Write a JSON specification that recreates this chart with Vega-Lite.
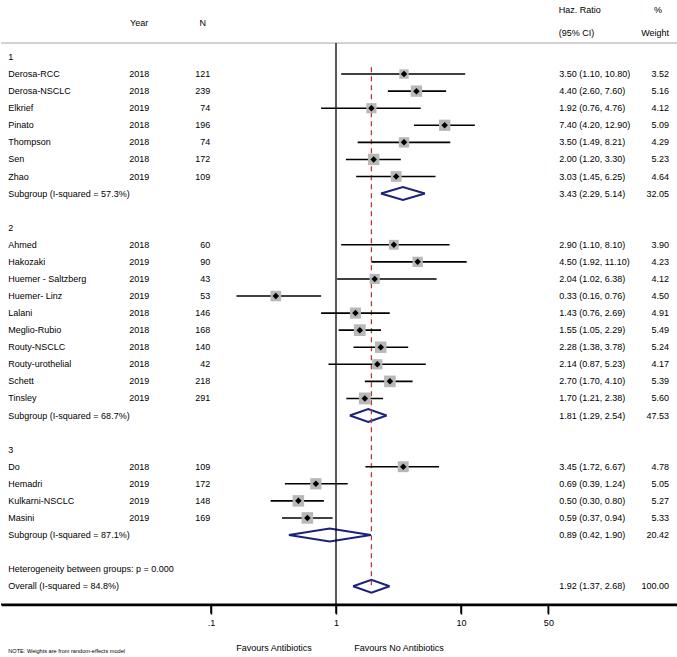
{
  "$schema": "https://vega.github.io/schema/vega-lite/v6.json",
  "width": 677,
  "height": 605,
  "padding": 0,
  "config": {
    "view": {"stroke": null},
    "text": {"font": "Liberation Sans", "fontSize": 9, "color": "black", "baseline": "middle"},
    "axisX": {"title": null, "grid": false, "domain": true, "ticks": true, "domainColor": "black", "domainWidth": 1.4, "tickColor": "black", "tickWidth": 1.5, "tickSize": 9, "labelPadding": 4,
      "labelFont": "Liberation Sans", "labelFontSize": 9, "labelColor": "black", "labelFlush": false, "labelOverlap": false}
  },
  "datasets": {
    "rows": [
      {"row": 0, "kind": "group", "label": "1"},
      {"row": 1, "kind": "study", "label": "Derosa-RCC", "year": 2018, "n": 121, "hr": 3.50, "lo": 1.10, "hi": 10.80, "w": 3.52, "ci": "3.50 (1.10, 10.80)"},
      {"row": 2, "kind": "study", "label": "Derosa-NSCLC", "year": 2018, "n": 239, "hr": 4.40, "lo": 2.60, "hi": 7.60, "w": 5.16, "ci": "4.40 (2.60, 7.60)"},
      {"row": 3, "kind": "study", "label": "Elkrief", "year": 2019, "n": 74, "hr": 1.92, "lo": 0.76, "hi": 4.76, "w": 4.12, "ci": "1.92 (0.76, 4.76)"},
      {"row": 4, "kind": "study", "label": "Pinato", "year": 2018, "n": 196, "hr": 7.40, "lo": 4.20, "hi": 12.90, "w": 5.09, "ci": "7.40 (4.20, 12.90)"},
      {"row": 5, "kind": "study", "label": "Thompson", "year": 2018, "n": 74, "hr": 3.50, "lo": 1.49, "hi": 8.21, "w": 4.29, "ci": "3.50 (1.49, 8.21)"},
      {"row": 6, "kind": "study", "label": "Sen", "year": 2018, "n": 172, "hr": 2.00, "lo": 1.20, "hi": 3.30, "w": 5.23, "ci": "2.00 (1.20, 3.30)"},
      {"row": 7, "kind": "study", "label": "Zhao", "year": 2019, "n": 109, "hr": 3.03, "lo": 1.45, "hi": 6.25, "w": 4.64, "ci": "3.03 (1.45, 6.25)"},
      {"row": 8, "kind": "pooled", "label": "Subgroup (I-squared = 57.3%)", "hr": 3.43, "lo": 2.29, "hi": 5.14, "w": 32.05, "ci": "3.43 (2.29, 5.14)"},
      {"row": 10, "kind": "group", "label": "2"},
      {"row": 11, "kind": "study", "label": "Ahmed", "year": 2018, "n": 60, "hr": 2.90, "lo": 1.10, "hi": 8.10, "w": 3.90, "ci": "2.90 (1.10, 8.10)"},
      {"row": 12, "kind": "study", "label": "Hakozaki", "year": 2019, "n": 90, "hr": 4.50, "lo": 1.92, "hi": 11.10, "w": 4.23, "ci": "4.50 (1.92, 11.10)"},
      {"row": 13, "kind": "study", "label": "Huemer - Saltzberg", "year": 2019, "n": 43, "hr": 2.04, "lo": 1.02, "hi": 6.38, "w": 4.12, "ci": "2.04 (1.02, 6.38)"},
      {"row": 14, "kind": "study", "label": "Huemer- Linz", "year": 2019, "n": 53, "hr": 0.33, "lo": 0.16, "hi": 0.76, "w": 4.50, "ci": "0.33 (0.16, 0.76)"},
      {"row": 15, "kind": "study", "label": "Lalani", "year": 2018, "n": 146, "hr": 1.43, "lo": 0.76, "hi": 2.69, "w": 4.91, "ci": "1.43 (0.76, 2.69)"},
      {"row": 16, "kind": "study", "label": "Meglio-Rubio", "year": 2018, "n": 168, "hr": 1.55, "lo": 1.05, "hi": 2.29, "w": 5.49, "ci": "1.55 (1.05, 2.29)"},
      {"row": 17, "kind": "study", "label": "Routy-NSCLC", "year": 2018, "n": 140, "hr": 2.28, "lo": 1.38, "hi": 3.78, "w": 5.24, "ci": "2.28 (1.38, 3.78)"},
      {"row": 18, "kind": "study", "label": "Routy-urothelial", "year": 2018, "n": 42, "hr": 2.14, "lo": 0.87, "hi": 5.23, "w": 4.17, "ci": "2.14 (0.87, 5.23)"},
      {"row": 19, "kind": "study", "label": "Schett", "year": 2019, "n": 218, "hr": 2.70, "lo": 1.70, "hi": 4.10, "w": 5.39, "ci": "2.70 (1.70, 4.10)"},
      {"row": 20, "kind": "study", "label": "Tinsley", "year": 2019, "n": 291, "hr": 1.70, "lo": 1.21, "hi": 2.38, "w": 5.60, "ci": "1.70 (1.21, 2.38)"},
      {"row": 21, "kind": "pooled", "label": "Subgroup (I-squared = 68.7%)", "hr": 1.81, "lo": 1.29, "hi": 2.54, "w": 47.53, "ci": "1.81 (1.29, 2.54)"},
      {"row": 23, "kind": "group", "label": "3"},
      {"row": 24, "kind": "study", "label": "Do", "year": 2018, "n": 109, "hr": 3.45, "lo": 1.72, "hi": 6.67, "w": 4.78, "ci": "3.45 (1.72, 6.67)"},
      {"row": 25, "kind": "study", "label": "Hemadri", "year": 2019, "n": 172, "hr": 0.69, "lo": 0.39, "hi": 1.24, "w": 5.05, "ci": "0.69 (0.39, 1.24)"},
      {"row": 26, "kind": "study", "label": "Kulkarni-NSCLC", "year": 2019, "n": 148, "hr": 0.50, "lo": 0.30, "hi": 0.80, "w": 5.27, "ci": "0.50 (0.30, 0.80)"},
      {"row": 27, "kind": "study", "label": "Masini", "year": 2019, "n": 169, "hr": 0.59, "lo": 0.37, "hi": 0.94, "w": 5.33, "ci": "0.59 (0.37, 0.94)"},
      {"row": 28, "kind": "pooled", "label": "Subgroup (I-squared = 87.1%)", "hr": 0.89, "lo": 0.42, "hi": 1.90, "w": 20.42, "ci": "0.89 (0.42, 1.90)"},
      {"row": 30, "kind": "note", "label": "Heterogeneity between groups: p = 0.000"},
      {"row": 31, "kind": "overall", "label": "Overall (I-squared = 84.8%)", "hr": 1.92, "lo": 1.37, "hi": 2.68, "w": 100.00, "ci": "1.92 (1.37, 2.68)"}
    ]
  },
  "data": {"name": "rows"},
  "layer": [
    {
      "data": {"values": [{}]},
      "mark": {"type": "rule", "color": "#c4c4c4", "strokeWidth": 1.5},
      "encoding": {
        "y": {"datum": -0.82, "type": "quantitative", "scale": {"domain": [-3.339, 32.1], "reverse": true, "nice": false, "zero": false}, "axis": null}
      }
    },
    {
      "data": {"values": [{}]},
      "mark": {"type": "rule", "color": "black", "strokeWidth": 1.5, "clip": false},
      "encoding": {
        "x": {"datum": 0.002089, "type": "quantitative", "scale": {"type": "log", "domain": [0.002089, 544.5], "nice": false},
          "axis": {"values": [0.1, 1, 10, 50], "labelExpr": "datum.value < 1 ? '.1' : format(datum.value, 'd')"}},
        "x2": {"datum": 544.5},
        "y": {"datum": 32.05, "type": "quantitative", "scale": {"domain": [-3.339, 32.1], "reverse": true, "nice": false, "zero": false}, "axis": null}
      }
    },
    {
      "data": {"values": [{"tickAt": 0.1}, {"tickAt": 1}, {"tickAt": 10}, {"tickAt": 50}]},
      "mark": {"type": "rule", "color": "black", "strokeWidth": 1.5, "clip": false},
      "encoding": {
        "x": {"field": "tickAt", "type": "quantitative", "scale": {"type": "log", "domain": [0.002089, 544.5], "nice": false},
          "axis": {"values": [0.1, 1, 10, 50], "labelExpr": "datum.value < 1 ? '.1' : format(datum.value, 'd')"}},
        "y": {"datum": 32.05, "type": "quantitative", "scale": {"domain": [-3.339, 32.1], "reverse": true, "nice": false, "zero": false}, "axis": null},
        "y2": {"datum": 32.6}
      }
    },
    {
      "transform": [
        {"filter": "datum.kind == 'pooled' || datum.kind == 'overall'"},
        {"fold": ["lo", "hr", "hi"], "as": ["k", "v"]}
      ],
      "mark": {"type": "line", "color": "#1b2279", "strokeWidth": 2, "strokeJoin": "miter", "yOffset": {"expr": "datum.k == 'hr' ? -6.5 : 0"}},
      "encoding": {
        "x": {"field": "v", "type": "quantitative", "scale": {"type": "log", "domain": [0.002089, 544.5], "nice": false},
          "axis": {"values": [0.1, 1, 10, 50], "labelExpr": "datum.value < 1 ? '.1' : format(datum.value, 'd')"}},
        "y": {"field": "row", "type": "quantitative", "scale": {"domain": [-3.339, 32.1], "reverse": true, "nice": false, "zero": false}, "axis": null},
        "detail": {"field": "row"},
        "order": {"field": "v"}
      }
    },
    {
      "transform": [
        {"filter": "datum.kind == 'pooled' || datum.kind == 'overall'"},
        {"fold": ["lo", "hr", "hi"], "as": ["k", "v"]}
      ],
      "mark": {"type": "line", "color": "#1b2279", "strokeWidth": 2, "strokeJoin": "miter", "yOffset": {"expr": "datum.k == 'hr' ? 6.5 : 0"}},
      "encoding": {
        "x": {"field": "v", "type": "quantitative", "scale": {"type": "log", "domain": [0.002089, 544.5], "nice": false},
          "axis": {"values": [0.1, 1, 10, 50], "labelExpr": "datum.value < 1 ? '.1' : format(datum.value, 'd')"}},
        "y": {"field": "row", "type": "quantitative", "scale": {"domain": [-3.339, 32.1], "reverse": true, "nice": false, "zero": false}, "axis": null},
        "detail": {"field": "row"},
        "order": {"field": "v"}
      }
    },
    {
      "data": {"values": [{}]},
      "mark": {"type": "rule", "color": "black", "strokeWidth": 1.3},
      "encoding": {
        "x": {"datum": 1, "type": "quantitative", "scale": {"type": "log", "domain": [0.002089, 544.5], "nice": false},
          "axis": {"values": [0.1, 1, 10, 50], "labelExpr": "datum.value < 1 ? '.1' : format(datum.value, 'd')"}},
        "y": {"datum": -0.82, "type": "quantitative", "scale": {"domain": [-3.339, 32.1], "reverse": true, "nice": false, "zero": false}, "axis": null},
        "y2": {"datum": 32.1}
      }
    },
    {
      "transform": [{"filter": "datum.kind == 'overall'"}],
      "mark": {"type": "rule", "color": "#b23b36", "strokeWidth": 1.3, "strokeDash": [5, 4]},
      "encoding": {
        "x": {"field": "hr", "type": "quantitative", "scale": {"type": "log", "domain": [0.002089, 544.5], "nice": false},
          "axis": {"values": [0.1, 1, 10, 50], "labelExpr": "datum.value < 1 ? '.1' : format(datum.value, 'd')"}},
        "y": {"datum": 0.6, "type": "quantitative", "scale": {"domain": [-3.339, 32.1], "reverse": true, "nice": false, "zero": false}, "axis": null},
        "y2": {"datum": 31}
      }
    },
    {
      "transform": [{"filter": "datum.kind == 'study'"}],
      "mark": {"type": "rule", "color": "black", "strokeWidth": 1.6},
      "encoding": {
        "x": {"field": "lo", "type": "quantitative", "scale": {"type": "log", "domain": [0.002089, 544.5], "nice": false},
          "axis": {"values": [0.1, 1, 10, 50], "labelExpr": "datum.value < 1 ? '.1' : format(datum.value, 'd')"}},
        "x2": {"field": "hi"},
        "y": {"field": "row", "type": "quantitative", "scale": {"domain": [-3.339, 32.1], "reverse": true, "nice": false, "zero": false}, "axis": null}
      }
    },
    {
      "transform": [{"filter": "datum.kind == 'study'"}],
      "mark": {"type": "point", "shape": "square", "filled": true, "color": "#b8b8b8", "opacity": 1},
      "encoding": {
        "x": {"field": "hr", "type": "quantitative", "scale": {"type": "log", "domain": [0.002089, 544.5], "nice": false},
          "axis": {"values": [0.1, 1, 10, 50], "labelExpr": "datum.value < 1 ? '.1' : format(datum.value, 'd')"}},
        "y": {"field": "row", "type": "quantitative", "scale": {"domain": [-3.339, 32.1], "reverse": true, "nice": false, "zero": false}, "axis": null},
        "size": {"field": "w", "type": "quantitative", "scale": {"type": "linear", "domain": [0, 6], "range": [0, 150], "zero": true}, "legend": null}
      }
    },
    {
      "transform": [{"filter": "datum.kind == 'study'"}],
      "mark": {"type": "point", "shape": "diamond", "filled": true, "color": "black", "opacity": 1, "size": 42},
      "encoding": {
        "x": {"field": "hr", "type": "quantitative", "scale": {"type": "log", "domain": [0.002089, 544.5], "nice": false},
          "axis": {"values": [0.1, 1, 10, 50], "labelExpr": "datum.value < 1 ? '.1' : format(datum.value, 'd')"}},
        "y": {"field": "row", "type": "quantitative", "scale": {"domain": [-3.339, 32.1], "reverse": true, "nice": false, "zero": false}, "axis": null}
      }
    },
    {
      "mark": {"type": "text", "align": "left"},
      "encoding": {
        "x": {"datum": 0.00239, "type": "quantitative", "scale": {"type": "log", "domain": [0.002089, 544.5], "nice": false},
          "axis": {"values": [0.1, 1, 10, 50], "labelExpr": "datum.value < 1 ? '.1' : format(datum.value, 'd')"}},
        "y": {"field": "row", "type": "quantitative", "scale": {"domain": [-3.339, 32.1], "reverse": true, "nice": false, "zero": false}, "axis": null},
        "text": {"field": "label"}
      }
    },
    {
      "transform": [{"filter": "datum.kind == 'study'"}],
      "mark": {"type": "text", "align": "left"},
      "encoding": {
        "x": {"datum": 0.02219, "type": "quantitative", "scale": {"type": "log", "domain": [0.002089, 544.5], "nice": false},
          "axis": {"values": [0.1, 1, 10, 50], "labelExpr": "datum.value < 1 ? '.1' : format(datum.value, 'd')"}},
        "y": {"field": "row", "type": "quantitative", "scale": {"domain": [-3.339, 32.1], "reverse": true, "nice": false, "zero": false}, "axis": null},
        "text": {"field": "year"}
      }
    },
    {
      "transform": [{"filter": "datum.kind == 'study'"}],
      "mark": {"type": "text", "align": "right"},
      "encoding": {
        "x": {"datum": 0.0987, "type": "quantitative", "scale": {"type": "log", "domain": [0.002089, 544.5], "nice": false},
          "axis": {"values": [0.1, 1, 10, 50], "labelExpr": "datum.value < 1 ? '.1' : format(datum.value, 'd')"}},
        "y": {"field": "row", "type": "quantitative", "scale": {"domain": [-3.339, 32.1], "reverse": true, "nice": false, "zero": false}, "axis": null},
        "text": {"field": "n"}
      }
    },
    {
      "transform": [{"filter": "datum.kind == 'study' || datum.kind == 'pooled' || datum.kind == 'overall'"}],
      "mark": {"type": "text", "align": "left"},
      "encoding": {
        "x": {"datum": 61.15, "type": "quantitative", "scale": {"type": "log", "domain": [0.002089, 544.5], "nice": false},
          "axis": {"values": [0.1, 1, 10, 50], "labelExpr": "datum.value < 1 ? '.1' : format(datum.value, 'd')"}},
        "y": {"field": "row", "type": "quantitative", "scale": {"domain": [-3.339, 32.1], "reverse": true, "nice": false, "zero": false}, "axis": null},
        "text": {"field": "ci"}
      }
    },
    {
      "transform": [{"filter": "datum.kind == 'study' || datum.kind == 'pooled' || datum.kind == 'overall'"}],
      "mark": {"type": "text", "align": "right"},
      "encoding": {
        "x": {"datum": 461.4, "type": "quantitative", "scale": {"type": "log", "domain": [0.002089, 544.5], "nice": false},
          "axis": {"values": [0.1, 1, 10, 50], "labelExpr": "datum.value < 1 ? '.1' : format(datum.value, 'd')"}},
        "y": {"field": "row", "type": "quantitative", "scale": {"domain": [-3.339, 32.1], "reverse": true, "nice": false, "zero": false}, "axis": null},
        "text": {"field": "w", "type": "quantitative", "format": ".2f"}
      }
    },
    {
      "data": {"values": [{}]},
      "mark": {"type": "text", "align": "left", "text": "Year"},
      "encoding": {
        "x": {"datum": 0.0225, "type": "quantitative", "scale": {"type": "log", "domain": [0.002089, 544.5], "nice": false},
          "axis": {"values": [0.1, 1, 10, 50], "labelExpr": "datum.value < 1 ? '.1' : format(datum.value, 'd')"}},
        "y": {"datum": -2.02, "type": "quantitative", "scale": {"domain": [-3.339, 32.1], "reverse": true, "nice": false, "zero": false}, "axis": null}
      }
    },
    {
      "data": {"values": [{}]},
      "mark": {"type": "text", "align": "right", "text": "N"},
      "encoding": {
        "x": {"datum": 0.0912, "type": "quantitative", "scale": {"type": "log", "domain": [0.002089, 544.5], "nice": false},
          "axis": {"values": [0.1, 1, 10, 50], "labelExpr": "datum.value < 1 ? '.1' : format(datum.value, 'd')"}},
        "y": {"datum": -2.02, "type": "quantitative", "scale": {"domain": [-3.339, 32.1], "reverse": true, "nice": false, "zero": false}, "axis": null}
      }
    },
    {
      "data": {"values": [{}]},
      "mark": {"type": "text", "align": "left", "text": "Haz. Ratio"},
      "encoding": {
        "x": {"datum": 60.5, "type": "quantitative", "scale": {"type": "log", "domain": [0.002089, 544.5], "nice": false},
          "axis": {"values": [0.1, 1, 10, 50], "labelExpr": "datum.value < 1 ? '.1' : format(datum.value, 'd')"}},
        "y": {"datum": -2.75, "type": "quantitative", "scale": {"domain": [-3.339, 32.1], "reverse": true, "nice": false, "zero": false}, "axis": null}
      }
    },
    {
      "data": {"values": [{}]},
      "mark": {"type": "text", "align": "left", "text": "(95% CI)"},
      "encoding": {
        "x": {"datum": 60.5, "type": "quantitative", "scale": {"type": "log", "domain": [0.002089, 544.5], "nice": false},
          "axis": {"values": [0.1, 1, 10, 50], "labelExpr": "datum.value < 1 ? '.1' : format(datum.value, 'd')"}},
        "y": {"datum": -1.406, "type": "quantitative", "scale": {"domain": [-3.339, 32.1], "reverse": true, "nice": false, "zero": false}, "axis": null}
      }
    },
    {
      "data": {"values": [{}]},
      "mark": {"type": "text", "align": "right", "text": "%"},
      "encoding": {
        "x": {"datum": 405.5, "type": "quantitative", "scale": {"type": "log", "domain": [0.002089, 544.5], "nice": false},
          "axis": {"values": [0.1, 1, 10, 50], "labelExpr": "datum.value < 1 ? '.1' : format(datum.value, 'd')"}},
        "y": {"datum": -2.75, "type": "quantitative", "scale": {"domain": [-3.339, 32.1], "reverse": true, "nice": false, "zero": false}, "axis": null}
      }
    },
    {
      "data": {"values": [{}]},
      "mark": {"type": "text", "align": "right", "text": "Weight"},
      "encoding": {
        "x": {"datum": 461.4, "type": "quantitative", "scale": {"type": "log", "domain": [0.002089, 544.5], "nice": false},
          "axis": {"values": [0.1, 1, 10, 50], "labelExpr": "datum.value < 1 ? '.1' : format(datum.value, 'd')"}},
        "y": {"datum": -1.406, "type": "quantitative", "scale": {"domain": [-3.339, 32.1], "reverse": true, "nice": false, "zero": false}, "axis": null}
      }
    },
    {
      "data": {"values": [{}]},
      "mark": {"type": "text", "align": "center", "text": "Favours Antibiotics"},
      "encoding": {
        "x": {"datum": 0.319, "type": "quantitative", "scale": {"type": "log", "domain": [0.002089, 544.5], "nice": false},
          "axis": {"values": [0.1, 1, 10, 50], "labelExpr": "datum.value < 1 ? '.1' : format(datum.value, 'd')"}},
        "y": {"datum": 34.6, "type": "quantitative", "scale": {"domain": [-3.339, 32.1], "reverse": true, "nice": false, "zero": false}, "axis": null}
      }
    },
    {
      "data": {"values": [{}]},
      "mark": {"type": "text", "align": "center", "text": "Favours No Antibiotics"},
      "encoding": {
        "x": {"datum": 3.19, "type": "quantitative", "scale": {"type": "log", "domain": [0.002089, 544.5], "nice": false},
          "axis": {"values": [0.1, 1, 10, 50], "labelExpr": "datum.value < 1 ? '.1' : format(datum.value, 'd')"}},
        "y": {"datum": 34.6, "type": "quantitative", "scale": {"domain": [-3.339, 32.1], "reverse": true, "nice": false, "zero": false}, "axis": null}
      }
    },
    {
      "data": {"values": [{}]},
      "mark": {"type": "text", "align": "left", "fontSize": 5.6, "text": "NOTE: Weights are from random-effects model"},
      "encoding": {
        "x": {"datum": 0.00239, "type": "quantitative", "scale": {"type": "log", "domain": [0.002089, 544.5], "nice": false},
          "axis": {"values": [0.1, 1, 10, 50], "labelExpr": "datum.value < 1 ? '.1' : format(datum.value, 'd')"}},
        "y": {"datum": 34.8, "type": "quantitative", "scale": {"domain": [-3.339, 32.1], "reverse": true, "nice": false, "zero": false}, "axis": null}
      }
    }
  ]
}
